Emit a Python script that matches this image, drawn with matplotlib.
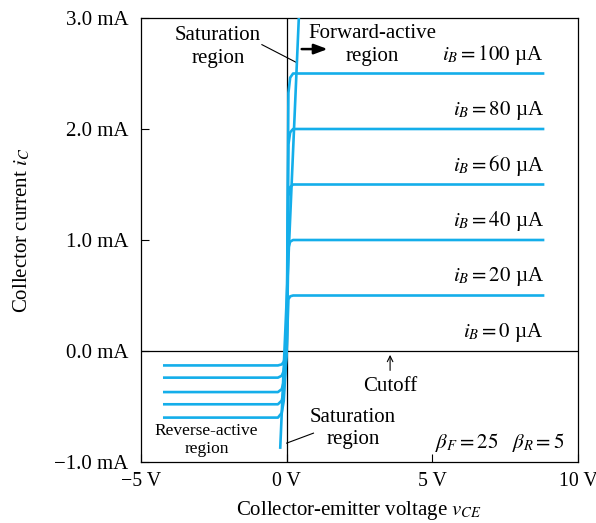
"""
BJT output characteristics (Ebers-Moll sketch) with forward, reverse and saturation regions.
"""

import matplotlib.pyplot as plt

plt.rcParams["font.family"] = "Liberation Serif"
plt.rcParams["mathtext.fontset"] = "stix"

BLUE = "#14AEEA"
FONTSIZE = 15

# forward-active curves (iB in uA, collector current in mA)
ib_fwd = [20, 40, 60, 80, 100]
ic_fwd = [0.5, 1.0, 1.5, 2.0, 2.5]
# knee shape of a forward curve: v_CE points and fraction of final current
vce_knee = [0.0, 0.06, 0.12, 0.22, 8.8]
frac_knee = [0.0, 0.93, 0.985, 1.0, 1.0]

# reverse-active curves (mA)
ic_rev = [-0.13, -0.24, -0.37, -0.48, -0.60]
vce_rev = [-4.2, -0.3, -0.17, -0.1, 0.0]
frac_rev = [1.0, 1.0, 0.93, 0.75, 0.0]

# steep saturation line
sat_v = [-0.22, 0.45]
sat_i = [-0.87, 3.2]

fig = plt.figure(figsize=(5.96, 5.23), dpi=100)
ax = fig.add_axes([141 / 596, 1 - 462 / 523, 437 / 596, 444 / 523])

for ic in ic_fwd:
    ax.plot(vce_knee, [ic * f for f in frac_knee], color=BLUE, lw=1.9,
            solid_joinstyle="round", zorder=3)
for ic in ic_rev:
    ax.plot(vce_rev, [ic * f for f in frac_rev], color=BLUE, lw=1.9,
            solid_joinstyle="round", zorder=3)
ax.plot(sat_v, sat_i, color=BLUE, lw=1.9, zorder=3)

ax.axhline(0, color="black", lw=0.9, zorder=2)
ax.axvline(0, color="black", lw=0.9, zorder=2)

ax.set_xlim(-5, 10)
ax.set_ylim(-1, 3)
ax.set_xticks([-5, 0, 5, 10])
ax.set_xticklabels(["\u22125 V", "0 V", "5 V", "10 V"], fontsize=14.3)
ax.set_yticks([-1, 0, 1, 2, 3])
ax.set_yticklabels(["\u22121.0 mA", "0.0 mA", "1.0 mA", "2.0 mA", "3.0 mA"],
                   fontsize=FONTSIZE)
ax.tick_params(direction="in", length=6, width=0.8, pad=7)
ax.tick_params(axis="y", pad=9)
for s in ax.spines.values():
    s.set_linewidth(0.9)

fig.text(359 / 596, 1 - 510 / 523, r"Collector-emitter voltage $\mathit{v}_{CE}$",
         ha="center", va="center", fontsize=FONTSIZE)
fig.text(22 / 596, 1 - 230 / 523, r"Collector current $i_C$", rotation=90,
         ha="center", va="center", fontsize=FONTSIZE)

# curve labels
for ib, ic in zip([0] + ib_fwd, [0.0] + ic_fwd):
    ax.text(8.83, ic + 0.17, rf"$i_B = {ib}$" + " \u00b5A",
            ha="right", va="center", fontsize=FONTSIZE)

# region annotations
ax.text(-2.36, 2.74, "Saturation\nregion", ha="center", va="center",
        fontsize=FONTSIZE, linespacing=1.3)
ax.plot([-0.85, 0.33], [2.76, 2.6], color="black", lw=0.8)
ax.text(2.93, 2.76, "Forward-active\nregion", ha="center", va="center",
        fontsize=FONTSIZE, linespacing=1.3)
ax.annotate("", xy=(1.5, 2.72), xytext=(0.42, 2.72),
            arrowprops=dict(arrowstyle="-|>,head_length=0.8,head_width=0.3",
                            color="black", lw=1.8))
ax.annotate("", xy=(3.55, -0.01), xytext=(3.55, -0.2),
            arrowprops=dict(arrowstyle="->,head_length=0.4,head_width=0.2",
                            color="black", lw=0.8))
ax.text(3.55, -0.32, "Cutoff", ha="center", va="center", fontsize=FONTSIZE)
ax.text(2.28, -0.7, "Saturation\nregion", ha="center", va="center",
        fontsize=FONTSIZE, linespacing=1.2)
ax.plot([0.0, 0.92], [-0.83, -0.74], color="black", lw=0.8)
ax.text(-2.75, -0.8, "Reverse-active\nregion", ha="center", va="center",
        fontsize=12.5, linespacing=1.15)
ax.text(5.1, -0.82, r"$\beta_F = 25\quad \beta_R = 5$", ha="left",
        va="center", fontsize=FONTSIZE)

fig.savefig("out.png", dpi=100)
plt.close(fig)
